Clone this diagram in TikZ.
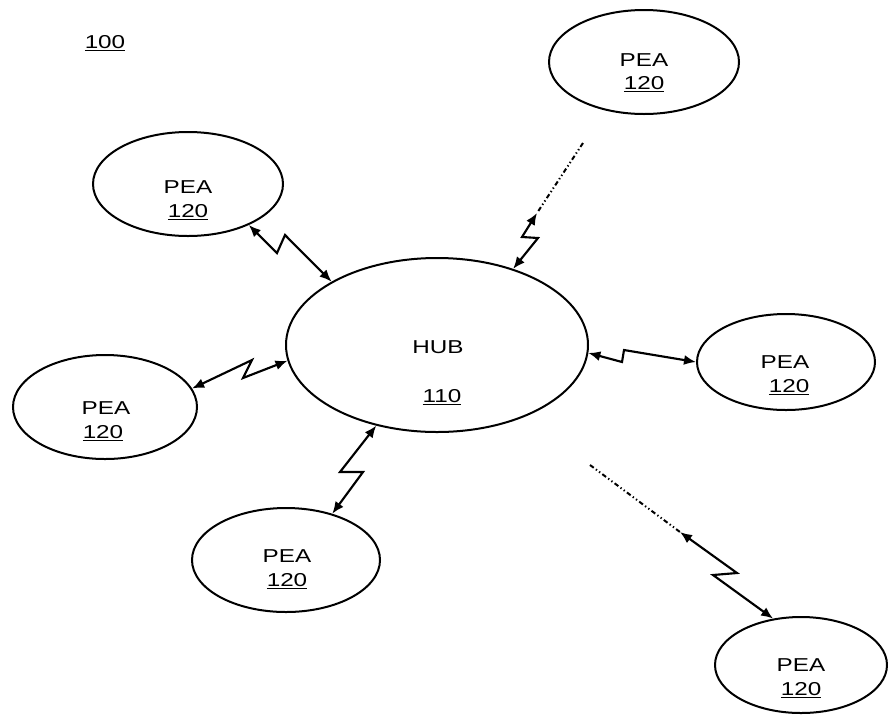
\documentclass[tikz,border=0pt]{standalone}
\usepackage{fontspec}
\newfontfamily\pf[FakeStretch=1.3]{Liberation Sans}
\usetikzlibrary{shapes.geometric,arrows.meta}
\begin{document}
\begin{tikzpicture}[x=0.75pt,y=-0.75pt,
  oval/.style={ellipse,draw,line width=1.5pt,inner sep=0pt},
  lbl/.style={font=\pf\fontsize{14}{16}\selectfont,inner sep=0pt},
  bolt/.style={line width=1.6pt,line join=miter,
    {Latex[length=9pt,width=7.5pt]}-{Latex[length=9pt,width=7.5pt]}},
  dashdots/.style={line width=1.5pt,dash pattern=on 3.5pt off 2pt on 1pt off 2pt on 1pt off 2pt}]
\useasboundingbox (0,0) rectangle (888,715);

% ellipses
\node[oval,minimum width=226.5pt,minimum height=130.5pt] (hub) at (437,345) {};
\node[oval,minimum width=142.5pt,minimum height=78pt] (tr) at (644,62) {};
\node[oval,minimum width=142.5pt,minimum height=78pt] (tl) at (188,184) {};
\node[oval,minimum width=133.5pt,minimum height=72pt] (r) at (786,362) {};
\node[oval,minimum width=138pt,minimum height=78pt] (l) at (105,407) {};
\node[oval,minimum width=141pt,minimum height=78pt] (b) at (286,560) {};
\node[oval,minimum width=129pt,minimum height=72pt] (br) at (801,665) {};

% texts
\node[lbl] (t100) at (105,43) {\underline{100}};
\node[lbl] (hubA) at (438,347) {HUB};
\node[lbl] (hubB) at (442,397) {\underline{110}};
\node[lbl] (trA) at (644,60) {PEA};
\node[lbl] (trB) at (644,84) {\underline{120}};
\node[lbl] (tlA) at (188,187) {PEA};
\node[lbl] (tlB) at (188,212) {\underline{120}};
\node[lbl] (rA) at (785,362) {PEA};
\node[lbl] (rB) at (789,387) {\underline{120}};
\node[lbl] (lA) at (106,408) {PEA};
\node[lbl] (lB) at (103,433) {\underline{120}};
\node[lbl] (bA) at (287,556) {PEA};
\node[lbl] (bB) at (287,581) {\underline{120}};
\node[lbl] (brA) at (801,665) {PEA};
\node[lbl] (brB) at (801,690) {\underline{120}};

% connectors
\draw[bolt] (tl.-34) -- (277,253) -- (285,235) -- (hub.149.5);
\draw[bolt] (l.12.5) -- (252,360) -- (243,378) -- (hub.186.3);
\draw[bolt] (hub.-3.7) -- (622,362) -- (624,350) -- (r.180.6);
\draw[bolt] (hub.-127.6) -- (340,472) -- (363,472) -- (b.45.6);

\coordinate (trfar) at (583,143);
\coordinate (trnear) at (537,213);
\draw[dashdots] (trfar) -- (trnear);
\draw[bolt] (trnear) -- (522,237) -- (538,238) -- (hub.45);

\coordinate (brfar) at (590,465);
\coordinate (brnear) at (680,532);
\draw[dashdots] (brfar) -- (brnear);
\draw[bolt] (brnear) -- (737,573) -- (713,575) -- (br.121.8);
\end{tikzpicture}
\end{document}
